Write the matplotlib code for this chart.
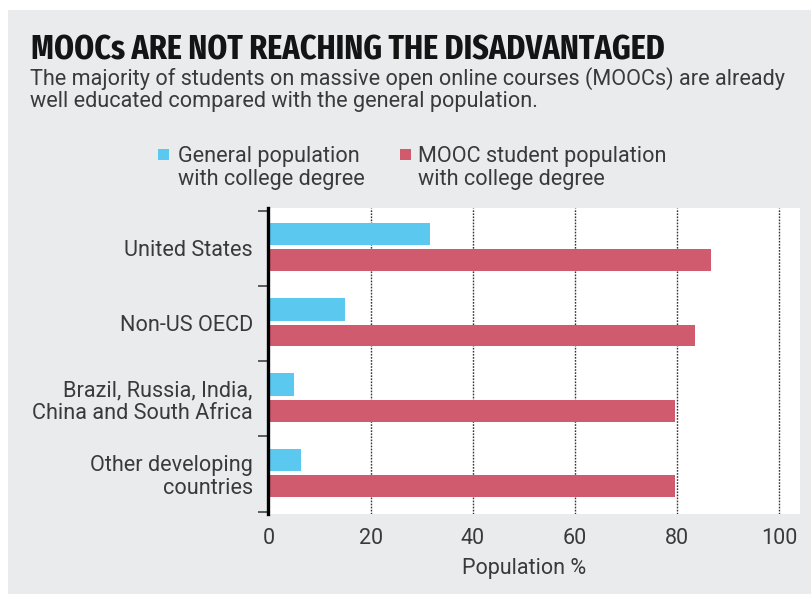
import matplotlib
matplotlib.use("Agg")
import matplotlib.pyplot as plt
from matplotlib.patches import Rectangle

categories = ["United States", "Non-US OECD", "Brazil, Russia, India,\nChina and South Africa", "Other developing\ncountries"]
general_pop = [31.6, 15.0, 5.0, 6.3]
mooc_pop = [86.7, 83.6, 79.6, 79.6]
xticks = [0, 20, 40, 60, 80, 100]
legend_labels = ["General population\nwith college degree", "MOOC student population\nwith college degree"]

BG = "#e9ebed"
BLUE = "#5bc8f0"
RED = "#d05a6e"
TXT = "#3a3a3a"
FONT = "Roboto"
TFONT = "Fira Sans Extra Condensed"
W, H = 812, 594

fig = plt.figure(figsize=(W/100, H/100), dpi=100)
fig.patch.set_facecolor("white")
fig.patches.append(Rectangle((8/W, 0), 1, 1 - 10/H, transform=fig.transFigure,
                             facecolor=BG, edgecolor="none", zorder=-10))


def fx(px):
    return px / W


def fy(py):
    return 1 - py / H


def fit(t, target_px):
    fig.canvas.draw()
    w = t.get_window_extent(fig.canvas.get_renderer()).width
    t.set_fontsize(t.get_fontsize() * target_px / w)
    return t.get_fontsize()


# axes: x=0 at 268.5 px, x=100 at 779 px; y boundaries 210.5 .. 511.5 px
x0, x100 = 268.5, 779.0
ax_left, ax_right = 268.5, 800.0
ax_top, ax_bot = 208.0, 514.0
ax = fig.add_axes([fx(ax_left), fy(ax_bot), (ax_right - ax_left)/W, (ax_bot - ax_top)/H])
ax.set_facecolor("white")

ppu = (x100 - x0) / 100
ax.set_xlim(0, (ax_right - ax_left) / ppu)
grp = (511.5 - 210.5) / len(categories)
m_top = (210.5 - ax_top) / grp
m_bot = (ax_bot - 511.5) / grp
ax.set_ylim(len(categories) - 0.5 + m_bot, -0.5 - m_top)

ys = list(range(len(categories)))
ax.barh([y - 0.185 for y in ys], general_pop, height=0.30, color=BLUE, zorder=3)
ax.barh([y + 0.16 for y in ys], mooc_pop, height=0.29, color=RED, zorder=3)

ax.set_xticks(xticks)
ax.set_xticklabels([str(t) for t in xticks], fontsize=15.5, color=TXT, family=FONT)
ax.tick_params(axis="x", length=0, pad=10)
for t in xticks[1:]:
    ax.axvline(t, color="#333333", linestyle=(0, (1.2, 1.0)), linewidth=1.0, zorder=2)

for s in ["top", "right", "bottom"]:
    ax.spines[s].set_visible(False)
ax.spines["left"].set_color("black")
ax.spines["left"].set_linewidth(2.4)
ax.spines["left"].set_zorder(5)

# title and subtitle
title = fig.text(fx(31.5), fy(59.3), "MOOCs ARE NOT REACHING THE DISADVANTAGED", fontsize=26,
                 fontweight="bold", family=TFONT, color="#141414", va="baseline")
fit(title, 663 - 31.5)
sub1 = fig.text(fx(30), fy(85), "The majority of students on massive open online courses (MOOCs) are already",
                fontsize=14, family=FONT, color=TXT, va="baseline")
fs = fit(sub1, 788 - 30)
fig.text(fx(30), fy(107.3), "well educated compared with the general population.",
         fontsize=fs, family=FONT, color=TXT, va="baseline")

# category labels
ax.set_yticks(ys)
ax.set_yticklabels(categories, fontsize=fs, color=TXT, family=FONT, ha="right", linespacing=1.12)
ax.set_yticks([y - 0.5 for y in ys] + [len(categories) - 0.5], minor=True)
ax.tick_params(axis="y", which="major", length=0, pad=15.5 * 72 / 100)
ax.tick_params(axis="y", which="minor", length=7.5, width=1.2, color="#444444", direction="out")

# x label
xl = ax.set_xlabel("Population %", fontsize=15.5, color=TXT, family=FONT)
ax.xaxis.set_label_coords(fx(524.5), fy(574), transform=fig.transFigure)
xl.set_va("baseline")

# legend (each label drawn line by line)
for sq_x, txt_x, color, label in [(158.5, 178, BLUE, legend_labels[0]),
                                  (400, 418, RED, legend_labels[1])]:
    fig.patches.append(Rectangle((fx(sq_x), fy(159.5)), 11/W, 11/H, transform=fig.transFigure,
                                 facecolor=color, edgecolor="none"))
    for k, line in enumerate(label.split("\n")):
        fig.text(fx(txt_x), fy(162 + 23 * k), line, fontsize=fs, family=FONT, color=TXT,
                 va="baseline")

fig.savefig("out.png", dpi=100, facecolor=fig.get_facecolor())
